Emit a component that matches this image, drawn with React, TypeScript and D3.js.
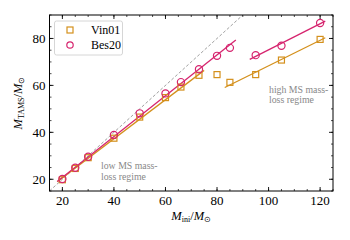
import React from "react";
import * as d3 from "d3";

const vinX = [20, 25, 30, 40, 50, 60, 66, 73, 80, 85, 95, 105, 120];
const vinY = [19.8, 24.6, 29.2, 37.5, 46.5, 54.8, 59.3, 64.3, 64.6, 61.3, 64.6, 70.8, 79.6];
const besX = [20, 25, 30, 40, 50, 60, 66, 73, 80, 85, 95, 105, 120];
const besY = [20.1, 24.9, 29.6, 38.9, 48.1, 56.6, 61.4, 66.9, 72.6, 76.0, 72.9, 76.9, 86.6];
// fit line endpoints [x0, y0, x1, y1]
const vinLowFit = [18, 18.9, 75, 66.4];
const vinHighFit = [83, 59.1, 122, 80.3];
const besLowFit = [18, 19.0, 87.3, 79.3];
const besHighFit = [92.7, 71.1, 122, 87.4];
const xTicks = [20, 40, 60, 80, 100, 120];
const yTicks = [20, 40, 60, 80];
const xMinor = d3.range(15, 126, 5);
const yMinor = d3.range(15, 91, 5);
const seriesNames = ["Vin01", "Bes20"];

const ORANGE = "#d4901c";
const MAGENTA = "#d6246e";
const TS = { fontFamily: "Liberation Serif" };

export default function App() {
  const W = 350, H = 240;
  const L = 49.5, R = 333, T = 15, B = 191;
  const x = d3.scaleLinear().domain([15, 125]).range([L, R]);
  const y = d3.scaleLinear().domain([15, 90]).range([B, T]);
  const line = (f: number[]) => `M${x(f[0])},${y(f[1])}L${x(f[2])},${y(f[3])}`;
  const s = 6;
  return (
    <svg width={W} height={H} style={{ position: "absolute", left: 0, top: 0 }}>
      <defs>
        <clipPath id="clip"><rect x={L} y={T} width={R - L} height={B - T} /></clipPath>
      </defs>
      <g clipPath="url(#clip)">
        <path d={line([15, 15, 125, 125])} stroke="#888" strokeWidth={0.8} strokeDasharray="3,2" fill="none" />
      </g>
      {[vinLowFit, vinHighFit].map((f, i) => (
        <path key={"vf" + i} d={line(f)} stroke={ORANGE} strokeWidth={1.3} fill="none" />
      ))}
      {[besLowFit, besHighFit].map((f, i) => (
        <path key={"bf" + i} d={line(f)} stroke={MAGENTA} strokeWidth={1.3} fill="none" />
      ))}
      {vinX.map((v, i) => (
        <rect key={"v" + i} x={x(v) - s / 2} y={y(vinY[i]) - s / 2} width={s} height={s} fill="none" stroke={ORANGE} strokeWidth={1.2} />
      ))}
      {besX.map((v, i) => (
        <circle key={"b" + i} cx={x(v)} cy={y(besY[i])} r={3.6} fill="none" stroke={MAGENTA} strokeWidth={1.2} />
      ))}
      {/* axes frame */}
      <rect x={L} y={T} width={R - L} height={B - T} fill="none" stroke="#000" strokeWidth={1} />
      {xMinor.map((t) => (
        <g key={"xm" + t}>
          <line x1={x(t)} x2={x(t)} y1={B} y2={B - 2} stroke="#000" strokeWidth={0.7} />
          <line x1={x(t)} x2={x(t)} y1={T} y2={T + 2} stroke="#000" strokeWidth={0.7} />
        </g>
      ))}
      {yMinor.map((t) => (
        <g key={"ym" + t}>
          <line x1={L} x2={L + 2} y1={y(t)} y2={y(t)} stroke="#000" strokeWidth={0.7} />
          <line x1={R} x2={R - 2} y1={y(t)} y2={y(t)} stroke="#000" strokeWidth={0.7} />
        </g>
      ))}
      {xTicks.map((t) => (
        <g key={"x" + t}>
          <line x1={x(t)} x2={x(t)} y1={B} y2={B - 4} stroke="#000" strokeWidth={0.9} />
          <line x1={x(t)} x2={x(t)} y1={T} y2={T + 4} stroke="#000" strokeWidth={0.9} />
          <text x={x(t)} y={B + 14} textAnchor="middle" fontSize={13} style={TS}>{t}</text>
        </g>
      ))}
      {yTicks.map((t) => (
        <g key={"y" + t}>
          <line x1={L} x2={L + 4} y1={y(t)} y2={y(t)} stroke="#000" strokeWidth={0.9} />
          <line x1={R} x2={R - 4} y1={y(t)} y2={y(t)} stroke="#000" strokeWidth={0.9} />
          <text x={L - 4} y={y(t) + 4.5} textAnchor="end" fontSize={13} style={TS}>{t}</text>
        </g>
      ))}
      {/* axis labels */}
      <text x={(L + R) / 2} y={220} textAnchor="middle" fontSize={12.5} style={TS}>
        <tspan fontStyle="italic">M</tspan>
        <tspan fontSize={8} dy={2}>ini</tspan>
        <tspan dy={-2}>/</tspan>
        <tspan fontStyle="italic">M</tspan>
        <tspan fontSize={8} dy={2}>⊙</tspan>
      </text>
      <text transform={`translate(22,${(T + B) / 2}) rotate(-90)`} textAnchor="middle" fontSize={12.5} style={TS}>
        <tspan fontStyle="italic">M</tspan>
        <tspan fontSize={8} dy={2}>TAMS</tspan>
        <tspan dy={-2}>/</tspan>
        <tspan fontStyle="italic">M</tspan>
        <tspan fontSize={8} dy={2}>⊙</tspan>
      </text>
      {/* annotations */}
      <text x={101} y={169} fontSize={9.8} fill="#888" style={TS}>low MS mass-</text>
      <text x={101} y={180} fontSize={9.8} fill="#888" style={TS}>loss regime</text>
      <text x={269} y={93} fontSize={9.8} fill="#888" style={TS}>high MS mass-</text>
      <text x={269} y={103} fontSize={9.8} fill="#888" style={TS}>loss regime</text>
      {/* legend */}
      <rect x={54.5} y={21} width={68} height={34} rx={2} fill="#fff" stroke="#ccc" strokeWidth={0.8} />
      <rect x={70 - 3} y={30 - 3} width={6} height={6} fill="none" stroke={ORANGE} strokeWidth={1.2} />
      <text x={91} y={34} fontSize={12} style={TS}>{seriesNames[0]}</text>
      <circle cx={70} cy={45} r={3.2} fill="none" stroke={MAGENTA} strokeWidth={1.2} />
      <text x={91} y={49} fontSize={12} style={TS}>{seriesNames[1]}</text>
    </svg>
  );
}
